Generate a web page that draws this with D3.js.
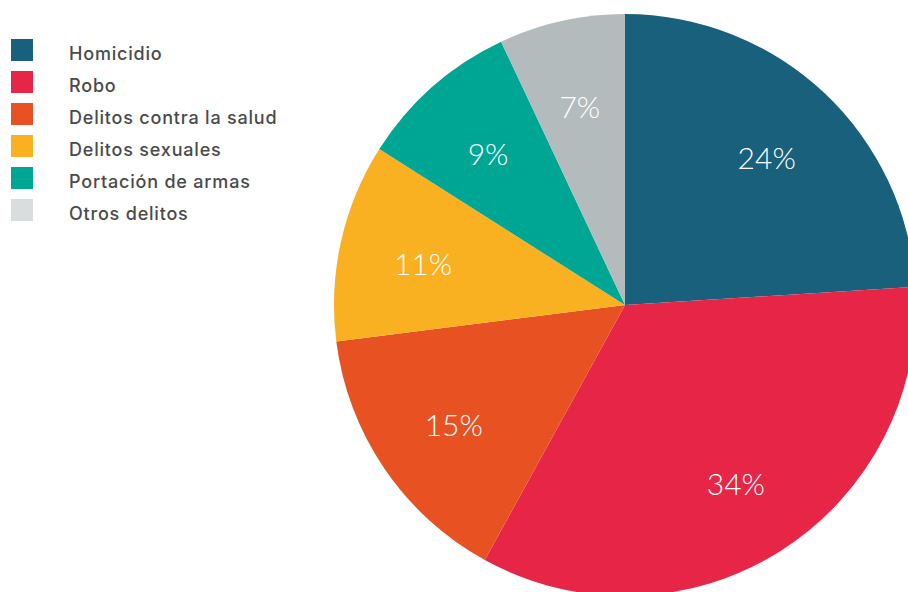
<!DOCTYPE html>
<html>
<head>
<meta charset="utf-8">
<script src="https://cdn.jsdelivr.net/npm/d3@7"></script>
<style>
  body { margin: 0; background: #fff; }
  svg { display: block; }
  .legend text { font-family: "Inter", sans-serif; font-size: 18px; font-weight: 500; letter-spacing: 0.8px; fill: #4a4a4a; }
  .slice-label { font-family: "Lato", sans-serif; font-size: 30px; font-weight: 300; fill: #fff; }
</style>
</head>
<body>
<div id="chart"></div>
<script>
  const categories = ["Homicidio", "Robo", "Delitos contra la salud", "Delitos sexuales", "Portación de armas", "Otros delitos"];
  const shares = [24, 34, 15, 11, 9, 7];
  const sliceColors = ["#19607c", "#e62547", "#e85223", "#f9b122", "#00a694", "#b3bbbc"];
  const legendColors = ["#19607c", "#e62547", "#e85223", "#f9b122", "#00a694", "#d9dddd"];

  const width = 908;
  const height = 592;
  const cx = 625;
  const cy = 305;
  const radius = 291;
  const labelRadius = 207;

  const svg = d3.select("#chart").append("svg")
    .attr("width", width)
    .attr("height", height);

  const pie = d3.pie().sort(null).value((d) => d);
  const arcs = pie(shares);
  const arc = d3.arc().innerRadius(0).outerRadius(radius);
  const labelArc = d3.arc().innerRadius(labelRadius).outerRadius(labelRadius);

  const g = svg.append("g").attr("transform", `translate(${cx},${cy})`);

  g.selectAll("path.slice")
    .data(arcs)
    .join("path")
    .attr("class", "slice")
    .attr("d", arc)
    .attr("fill", (d, i) => sliceColors[i]);

  g.selectAll("text.slice-label")
    .data(arcs)
    .join("text")
    .attr("class", "slice-label")
    .attr("transform", (d) => `translate(${labelArc.centroid(d)})`)
    .attr("text-anchor", "middle")
    .attr("dy", "0.5em")
    .text((d) => d.data + "%");

  // legend top-left
  const legendY = d3.scaleBand().domain(categories).range([39, 39 + 32 * categories.length]);
  const legend = svg.append("g").attr("class", "legend");
  const rows = legend.selectAll("g")
    .data(categories)
    .join("g")
    .attr("transform", (d) => `translate(11,${legendY(d)})`);
  rows.append("rect")
    .attr("width", 22)
    .attr("height", 22)
    .attr("fill", (d, i) => legendColors[i]);
  rows.append("text")
    .attr("x", 58)
    .attr("y", 21)
    .text((d) => d);
</script>
</body>
</html>
